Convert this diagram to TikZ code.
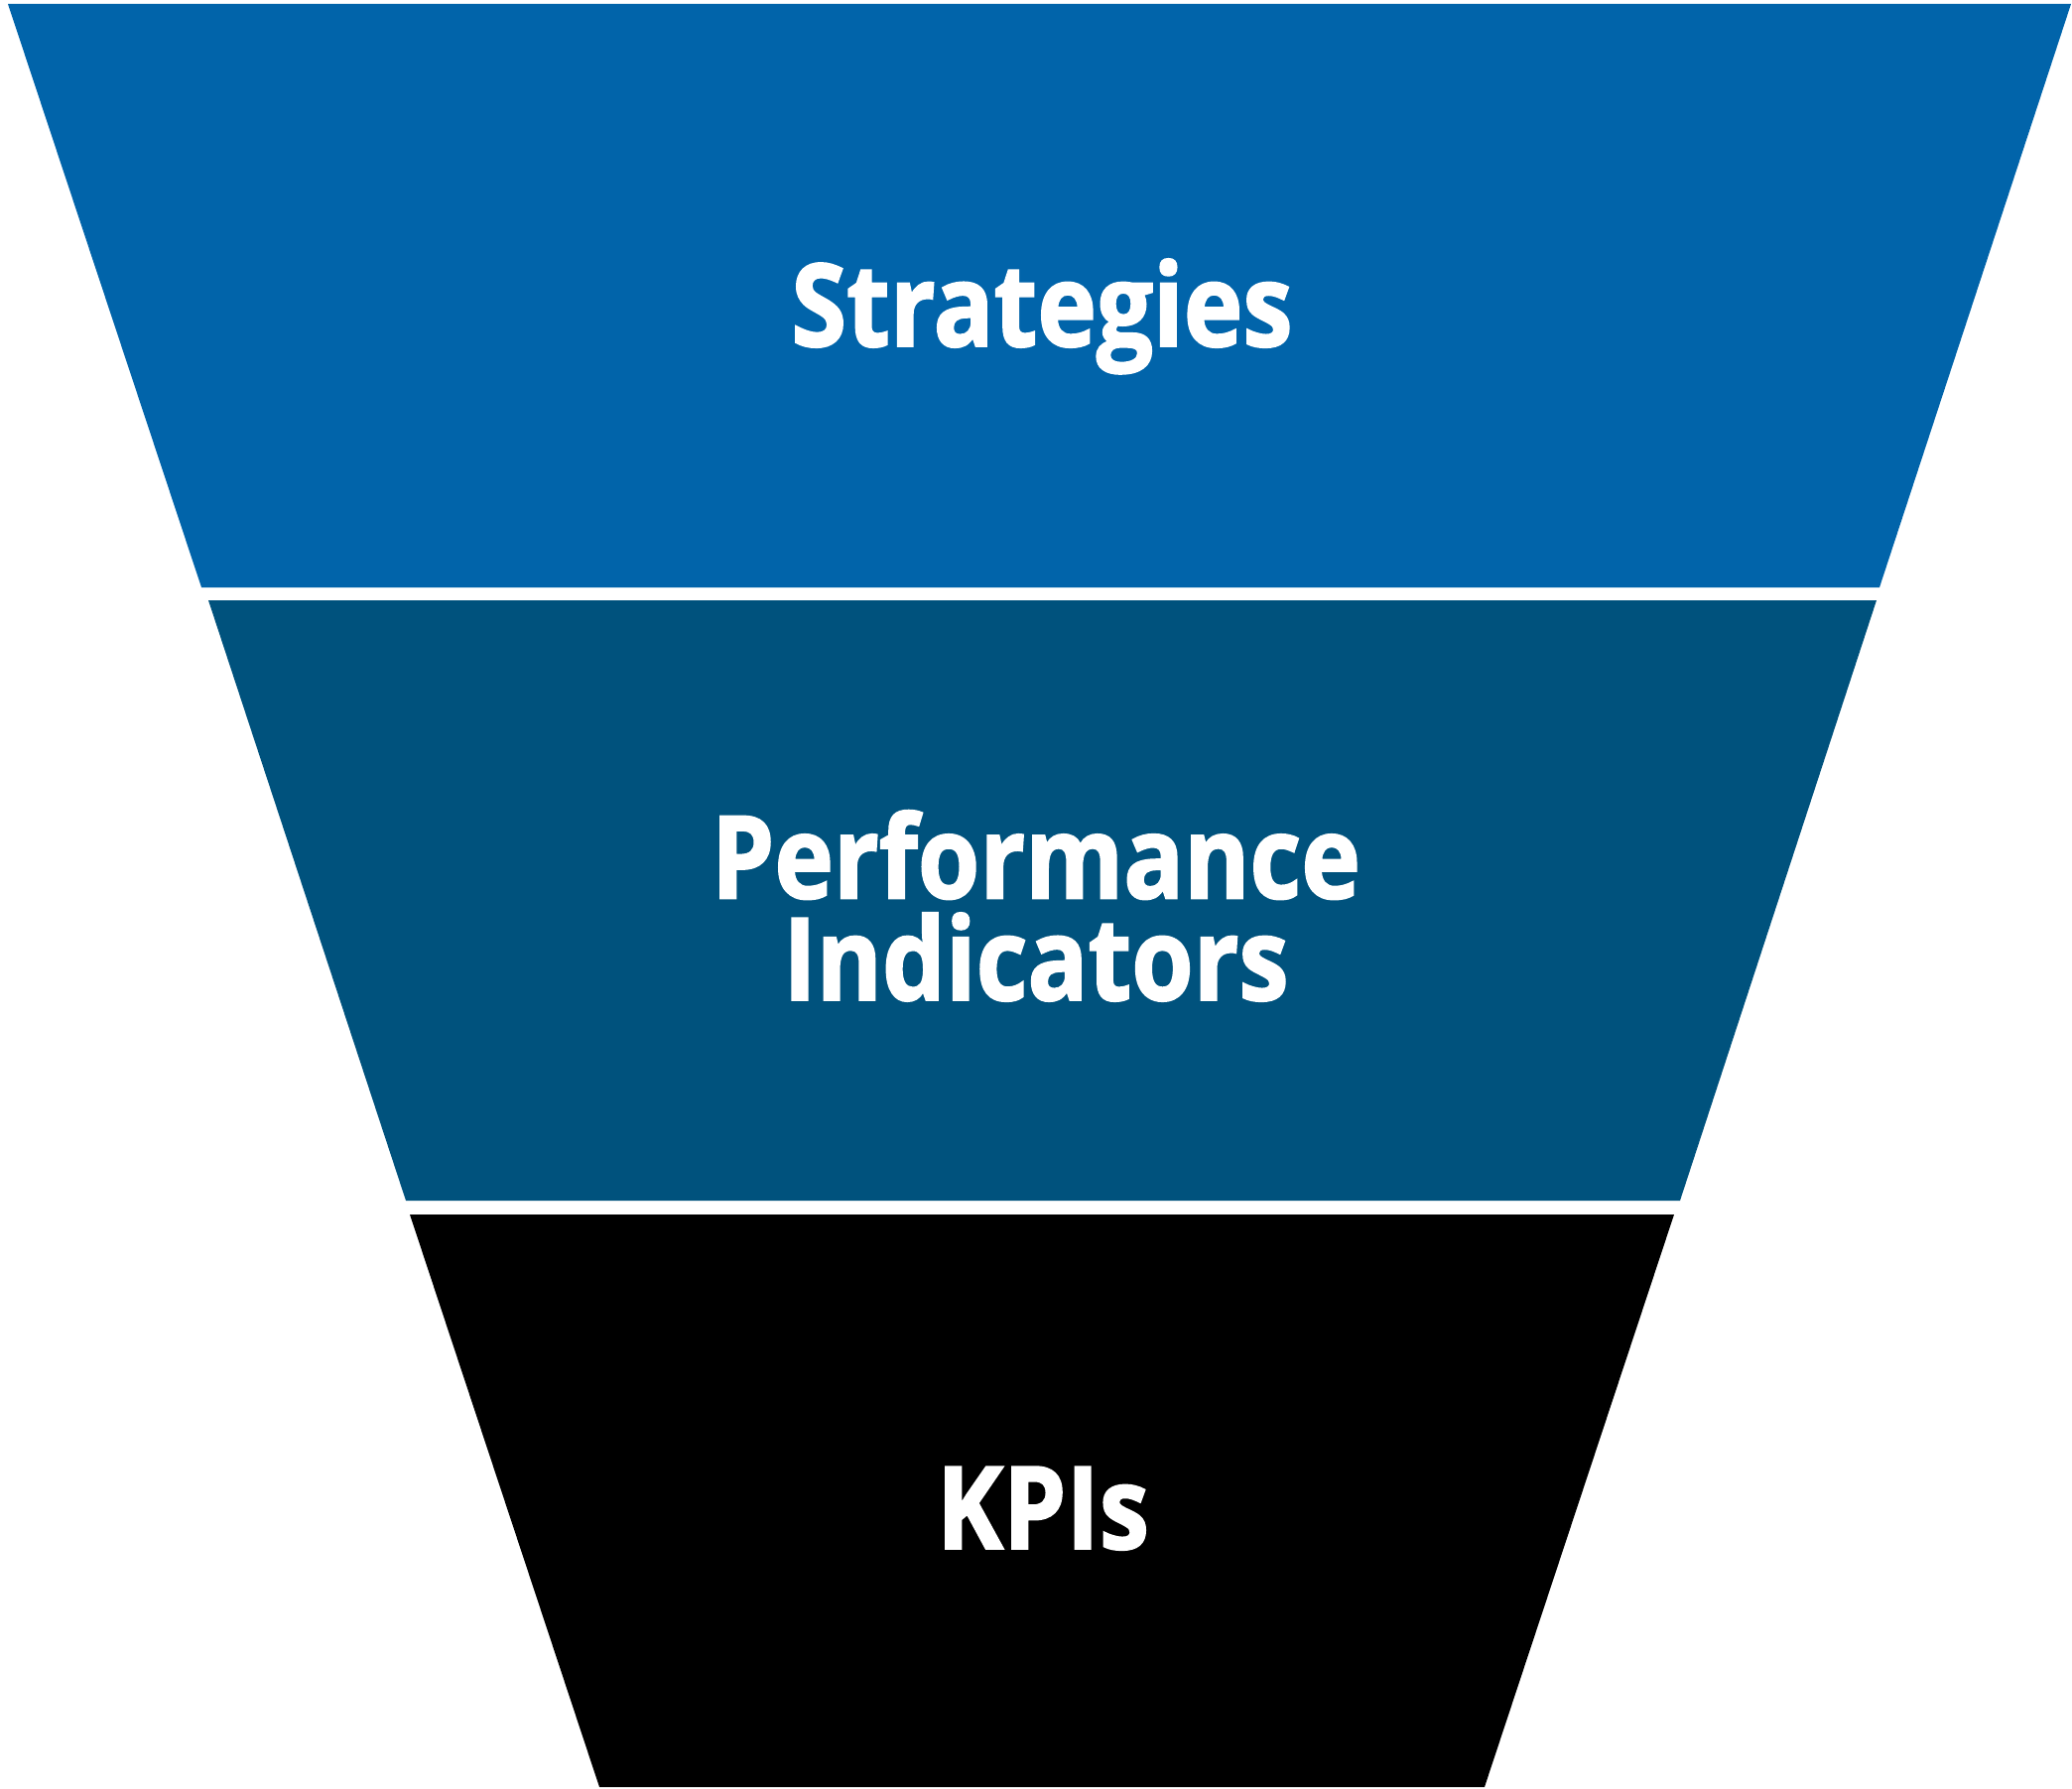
\documentclass[tikz,border=0pt]{standalone}
\usepackage{fontspec}
\setmainfont{Open Sans}[FakeStretch=0.87, BoldFeatures={FakeBold=1.6}]
\definecolor{stratblue}{HTML}{0164AA}
\definecolor{perfblue}{HTML}{00527D}
\tikzset{
  label/.style={text=white, font=\bfseries\fontsize{33}{29.2}\selectfont, align=center, anchor=base, inner sep=0pt}
}
\begin{document}
\begin{tikzpicture}[x=0.1mm, y=-0.1mm]
        \useasboundingbox (0,0) rectangle (2088,1803);

        % funnel bands
        \fill[stratblue] (8,4) -- (2087,4) -- (1894,592) -- (203,592) -- cycle;
        \fill[perfblue] (210,605) -- (1891,605) -- (1693,1210) -- (409,1210) -- cycle;
        \fill[black] (413,1224) -- (1687,1224) -- (1496,1801) -- (604,1801) -- cycle;

        \node[label] (strat) at (1050,349) {Strategies};
        \node[label] (perf) at (1044,1008) {Performance\\Indicators};
        \node[label] (kpi) at (1051,1561) {KPIs};
\end{tikzpicture}
\end{document}
